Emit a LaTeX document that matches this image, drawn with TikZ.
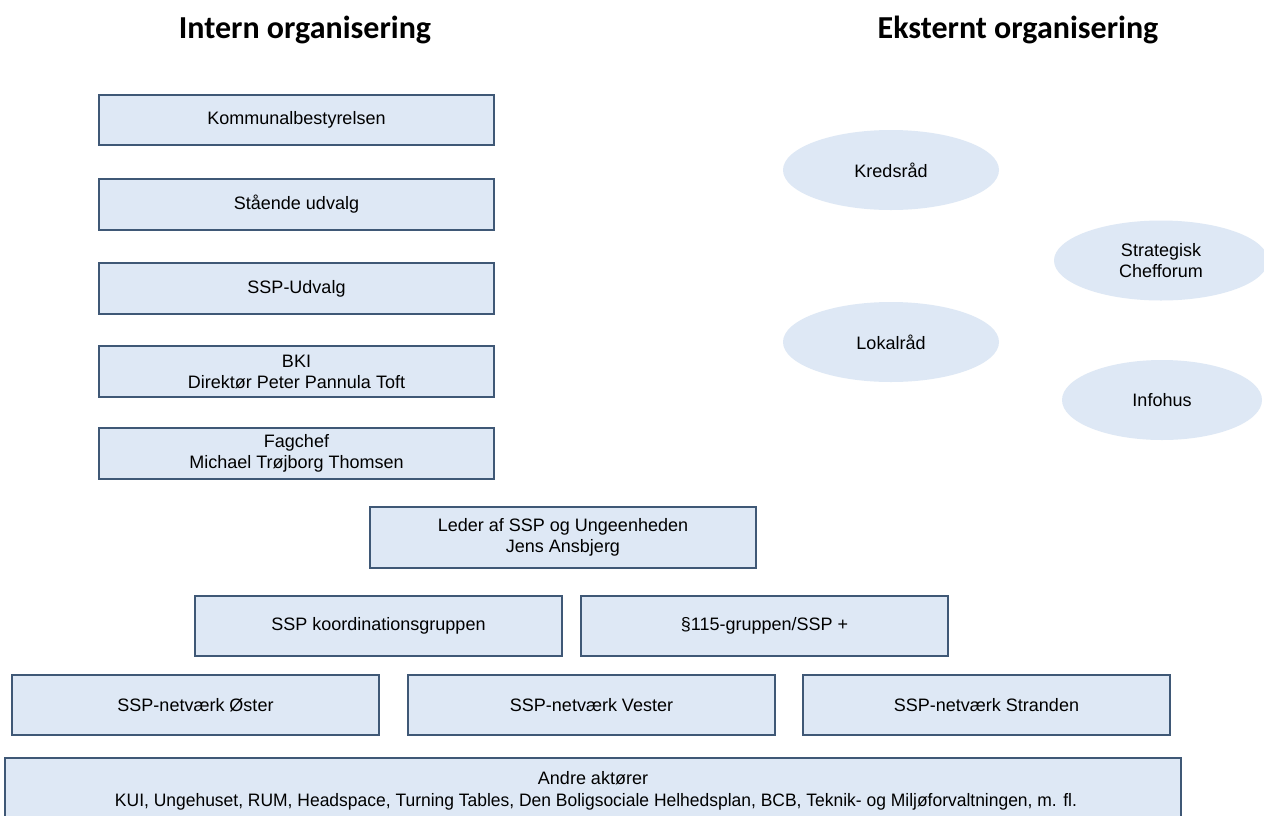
\documentclass[tikz,border=0pt]{standalone}
\usepackage{fontspec}
\setmainfont{Liberation Sans}
\newfontfamily\hdrfont{Carlito}
\usetikzlibrary{shapes.geometric}
\definecolor{boxfill}{HTML}{DEE8F5}
\definecolor{boxline}{HTML}{3F5876}
\begin{document}
\begin{tikzpicture}[x=1pt,y=-1pt,
  every node/.style={font=\fontsize{18}{21}\selectfont, text=black, align=center},
  orgbox/.style={draw=boxline, line width=1.2pt, fill=boxfill, rectangle, inner sep=0pt, outer sep=0pt},
  extell/.style={ellipse, fill=boxfill, inner sep=0pt, minimum width=216pt, minimum height=80pt},
  header/.style={font=\hdrfont\bfseries\fontsize{32}{36}\selectfont}]
\useasboundingbox (0,0) rectangle (1264,815);
\fill[white] (0,0) rectangle (1264,815);

\node[header] (hint) at (305,30) {Intern organisering};
\node[header] (hext) at (1018,30) {Eksternt organisering};

\node[orgbox, minimum width=395pt, minimum height=50pt] (kb) at (296.5,120) {Kommunalbestyrelsen};
\node[orgbox, minimum width=395pt, minimum height=51pt] (su) at (296.5,204.5) {Stående udvalg};
\node[orgbox, minimum width=395pt, minimum height=51pt] (sspu) at (296.5,288.5) {SSP-Udvalg};
\node[orgbox, minimum width=395pt, minimum height=51pt] (bki) at (296.5,371.5) {BKI\\Direktør Peter Pannula Toft};
\node[orgbox, minimum width=395pt, minimum height=51pt] (fag) at (296.5,453.5) {Fagchef\\Michael Trøjborg Thomsen};

\node[orgbox, minimum width=386pt, minimum height=61pt] (leder) at (563,537.5) {Leder af SSP og Ungeenheden\\Jens Ansbjerg};

\node[orgbox, minimum width=367pt, minimum height=60pt] (koord) at (378.5,626) {SSP koordinationsgruppen};
\node[orgbox, minimum width=367pt, minimum height=60pt] (p115) at (764.5,626) {§115-gruppen/SSP +};

\node[orgbox, minimum width=367pt, minimum height=60pt] (oster) at (195.5,705) {SSP-netværk Øster};
\node[orgbox, minimum width=367pt, minimum height=60pt] (vester) at (591.5,705) {SSP-netværk Vester};
\node[orgbox, minimum width=367pt, minimum height=60pt] (strand) at (986.5,705) {SSP-netværk Stranden};

\node[orgbox, minimum width=1176pt, minimum height=80pt] (andre) at (593,798) {};
\node (andre1) at (593,778) {Andre aktører};
\node (andre2) at (596,802) {\resizebox{962pt}{\height}{KUI, Ungehuset, RUM, Headspace, Turning Tables, Den Boligsociale Helhedsplan, BCB, Teknik- og Miljøforvaltningen, m. fl.}};

\node[extell] (kreds) at (891,170) {Kredsråd};
\node[extell, minimum width=214pt] (strat) at (1161,260.5) {Strategisk\\Chefforum};
\node[extell] (lokal) at (891,342) {Lokalråd};
\node[extell, minimum width=200pt] (info) at (1162,400) {Infohus};
\end{tikzpicture}
\end{document}
